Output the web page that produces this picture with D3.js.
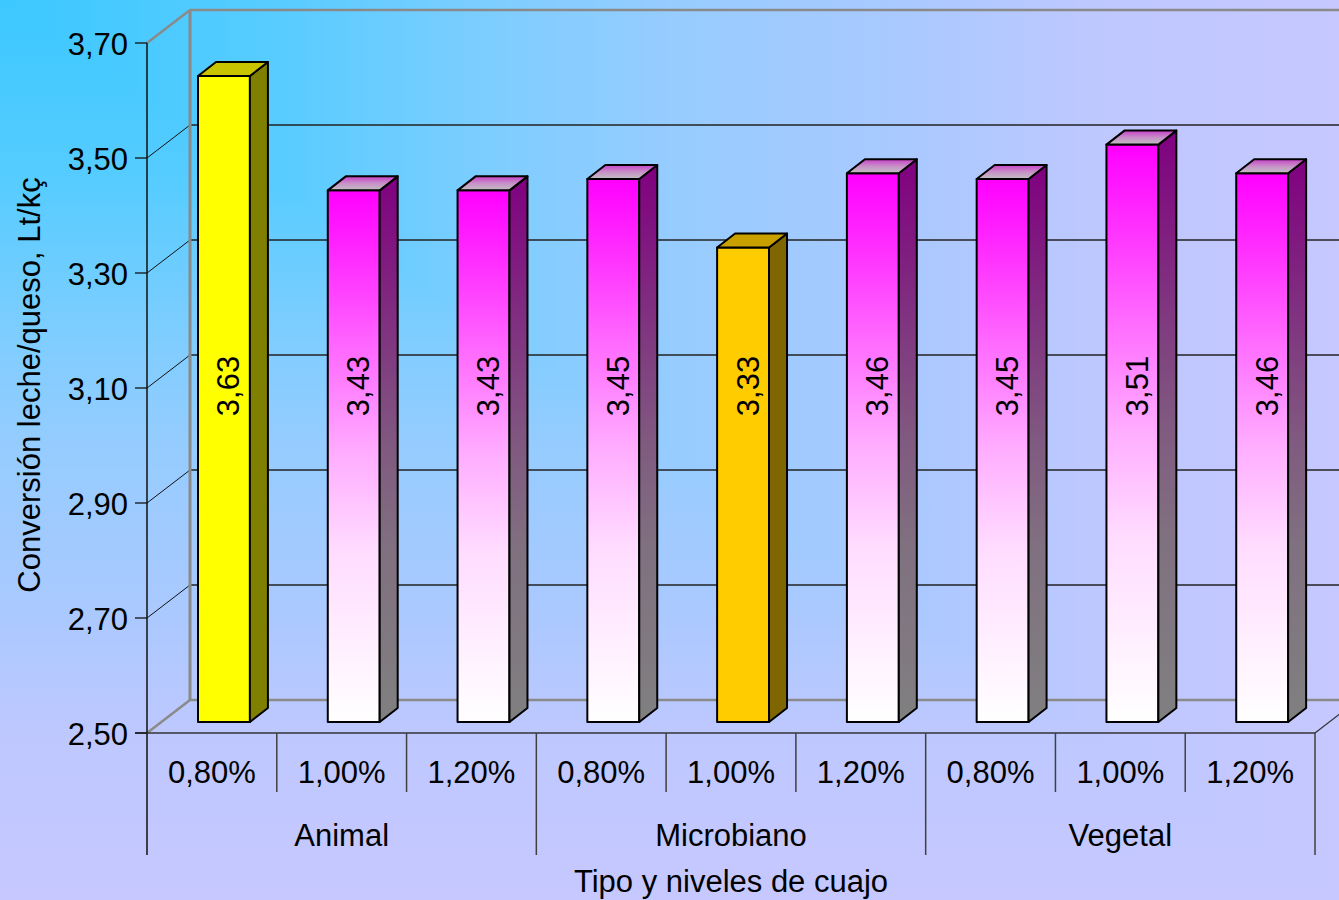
<!DOCTYPE html>
<html><head><meta charset="utf-8">
<script src="https://cdn.jsdelivr.net/npm/d3@7"></script>
<style>html,body{margin:0;padding:0;overflow:hidden;background:#c0c8ff}svg{display:block}</style>
</head><body><svg id="chart" width="1339" height="900"></svg>
<script>
// ---- data ----
const groups = ["Animal", "Microbiano", "Vegetal"];
const levels = ["0,80%", "1,00%", "1,20%"];
const values = [3.63, 3.43, 3.43, 3.45, 3.33, 3.46, 3.45, 3.51, 3.46];
const valueLabels = ["3,63", "3,43", "3,43", "3,45", "3,33", "3,46", "3,45", "3,51", "3,46"];
const barKind = ["yellow", "pink", "pink", "pink", "gold", "pink", "pink", "pink", "pink"];
const yTicks = [2.5, 2.7, 2.9, 3.1, 3.3, 3.5, 3.7];
const yTickLabels = ["2,50", "2,70", "2,90", "3,10", "3,30", "3,50", "3,70"];
const yTitle = "Conversión leche/queso, Lt/kç";
const xTitle = "Tipo y niveles de cuajo";

// ---- layout ----
const W = 1339, H = 900;
const FONT = "'Liberation Sans', Arial, sans-serif";
const FS = 31;
const DX = 43, DY = -33;          // depth offset of back wall
const axisX = 147, axisR = 1315;
const svg = d3.select("#chart");
const defs = svg.append("defs");

const cats = d3.range(values.length);
const x = d3.scaleBand().domain(cats).range([axisX, axisR]).padding(0);
const y = d3.scaleLinear().domain([2.5, 3.7]).range([733, 43]);
const yBar = d3.scaleLinear().domain([2.5, 3.7]).range([722, 722 - 686]);

// ---- background (corner gradient) ----
const bgStops = [[0, "#3cc8ff"], [0.2, "#56ccff"], [0.37, "#7ecdff"], [0.5, "#96ccff"], [0.68, "#aac9ff"], [0.82, "#bec8ff"], [1, "#c6c8ff"]];
function lg(id, x1, y1, x2, y2, stops, units) {
  const g = defs.append("linearGradient").attr("id", id)
    .attr("x1", x1).attr("y1", y1).attr("x2", x2).attr("y2", y2);
  if (units) g.attr("gradientUnits", units);
  stops.forEach(s => g.append("stop").attr("offset", s[0]).attr("stop-color", s[1]));
}
lg("bgV", 0, 0, 0, H, bgStops, "userSpaceOnUse");
lg("bgH", 0, 0, W, 0, bgStops, "userSpaceOnUse");
svg.append("rect").attr("width", W).attr("height", H).attr("fill", "url(#bgV)");
svg.append("polygon").attr("points", `0,0 ${W},0 ${W},${H}`).attr("fill", "url(#bgH)");

// bar gradients
lg("pinkFront", 0, 0, 0, 1, [[0, "#ff00ff"], [0.15, "#ff33ff"], [0.32, "#ff70ff"], [0.5, "#ffaeff"], [0.68, "#ffdcff"], [1, "#ffffff"]]);
lg("pinkSide", 0, 0, 0, 1, [[0, "#800080"], [0.15, "#801a80"], [0.32, "#803a80"], [0.5, "#805a80"], [0.68, "#807080"], [1, "#808080"]]);
lg("pinkTop", 0, 0, 0, 1, [[0, "#c840c8"], [0.5, "#c890c8"], [1, "#c0c0c0"]]);

const palette = {
  yellow: { front: "#ffff00", side: "#808000", top: "#c8c400" },
  gold: { front: "#ffcc00", side: "#806600", top: "#c8a000" },
  pink: { front: "url(#pinkFront)", side: "url(#pinkSide)", top: "url(#pinkTop)" }
};

// ---- walls, floor, gridlines ----
const wallColor = "#8a8a8a";
const walls = svg.append("g");
yTicks.forEach((v, i) => {
  const yf = y(v), yb = y(v) + DY;
  const edge = (i === 0 || i === yTicks.length - 1);
  walls.append("line").attr("x1", axisX).attr("y1", yf).attr("x2", axisX + DX).attr("y2", yb)
    .attr("stroke", edge ? wallColor : "#111").attr("stroke-width", edge ? 2.5 : 1);
  walls.append("line").attr("x1", axisX + DX).attr("y1", yb).attr("x2", W).attr("y2", yb)
    .attr("stroke", edge ? wallColor : "#222").attr("stroke-width", edge ? 2.5 : 1.3);
});
walls.append("line").attr("x1", axisX + DX).attr("y1", y(3.7) + DY).attr("x2", axisX + DX).attr("y2", y(2.5) + DY)
  .attr("stroke", wallColor).attr("stroke-width", 3);

// ---- bars ----
const bw = x.bandwidth() * 0.4, boff = x.bandwidth() * 0.393;
const sdx = 18, sdy = -14;
const bars = svg.append("g").attr("stroke", "#000").attr("stroke-width", 2).attr("stroke-linejoin", "round");
cats.forEach(i => {
  const p = palette[barKind[i]];
  const x0 = x(i) + boff, x1 = x0 + bw, yt = yBar(values[i]), yb = yBar(2.5);
  const g = bars.append("g");
  g.append("rect").attr("x", x0).attr("y", yt).attr("width", bw).attr("height", yb - yt).attr("fill", p.front);
  g.append("polygon").attr("points", [[x1, yb], [x1 + sdx, yb + sdy], [x1 + sdx, yt + sdy], [x1, yt]].join(" ")).attr("fill", p.side);
  g.append("polygon").attr("points", [[x0, yt], [x0 + sdx, yt + sdy], [x1 + sdx, yt + sdy], [x1, yt]].join(" ")).attr("fill", p.top);
  svg.append("text").attr("transform", `translate(${x0 + bw / 2 + 5},386) rotate(-90)`)
    .attr("text-anchor", "middle").attr("dominant-baseline", "central")
    .attr("font-family", FONT).attr("font-size", FS).attr("fill", "#000").text(valueLabels[i]);
});

// ---- front axis and floor edge ----
const fr = svg.append("g");
fr.append("line").attr("x1", axisX).attr("y1", y(3.7)).attr("x2", axisX).attr("y2", 855).attr("stroke", "#111").attr("stroke-width", 1.5);
fr.append("line").attr("x1", 135).attr("y1", y(2.5)).attr("x2", axisR).attr("y2", y(2.5)).attr("stroke", "#333").attr("stroke-width", 1.6);
fr.append("line").attr("x1", axisR).attr("y1", y(2.5)).attr("x2", axisR + DX).attr("y2", y(2.5) + DY).attr("stroke", "#333").attr("stroke-width", 1.2);
yTicks.forEach((v, i) => {
  fr.append("line").attr("x1", 135).attr("x2", axisX).attr("y1", y(v)).attr("y2", y(v)).attr("stroke", "#111").attr("stroke-width", 1.3);
  fr.append("text").attr("x", 128).attr("y", y(v) + 1).attr("text-anchor", "end").attr("dominant-baseline", "central")
    .attr("font-family", FONT).attr("font-size", FS).attr("fill", "#000").text(yTickLabels[i]);
});
// category dividers
d3.range(values.length + 1).forEach(k => {
  const xx = k < values.length ? x(k) : axisR;
  if (k === 0) return;
  const isGroup = k % levels.length === 0;
  fr.append("line").attr("x1", xx).attr("x2", xx).attr("y1", y(2.5)).attr("y2", isGroup ? 855 : 792)
    .attr("stroke", "#404040").attr("stroke-width", 1.5);
});
// level labels
cats.forEach(i => {
  fr.append("text").attr("x", x(i) + x.bandwidth() / 2).attr("y", 772).attr("text-anchor", "middle").attr("dominant-baseline", "central")
    .attr("font-family", FONT).attr("font-size", FS).attr("fill", "#000").text(levels[i % levels.length]);
});
// group labels
groups.forEach((gname, gi) => {
  const a = x(gi * levels.length), b = gi === groups.length - 1 ? axisR : x((gi + 1) * levels.length);
  fr.append("text").attr("x", (a + b) / 2).attr("y", 835).attr("text-anchor", "middle").attr("dominant-baseline", "central")
    .attr("font-family", FONT).attr("font-size", FS).attr("fill", "#000").text(gname);
});
// axis titles
svg.append("text").attr("x", (axisX + axisR) / 2).attr("y", 881).attr("text-anchor", "middle").attr("dominant-baseline", "central")
  .attr("font-family", FONT).attr("font-size", FS).attr("fill", "#000").text(xTitle);
svg.append("text").attr("transform", "translate(29,385) rotate(-90)").attr("text-anchor", "middle").attr("dominant-baseline", "central")
  .attr("font-family", FONT).attr("font-size", FS).attr("fill", "#000").text(yTitle);
</script></body></html>
